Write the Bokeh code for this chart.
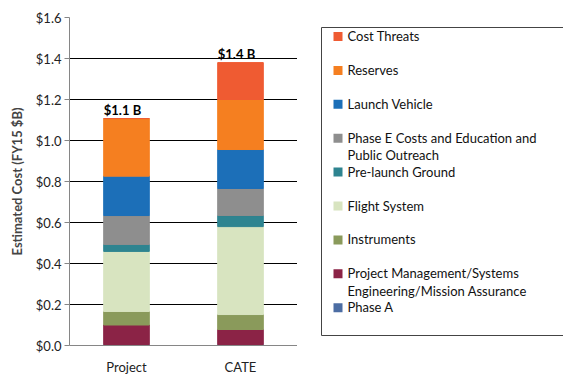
from bokeh.plotting import figure
from bokeh.layouts import row
from bokeh.models import ColumnDataSource, PrintfTickFormatter, FixedTicker, Range1d
from bokeh.core.properties import value
from bokeh.embed import file_html
from bokeh.resources import INLINE

categories = ["Project", "CATE"]
components = ["phase_a", "pm", "instruments", "flight", "prelaunch", "phase_e", "launch", "reserves", "threats"]
legend_labels = [
    "Phase A",
    "Project Management/Systems\nEngineering/Mission Assurance",
    "Instruments",
    "Flight System",
    "Pre-launch Ground",
    "Phase E Costs and Education and\nPublic Outreach",
    "Launch Vehicle",
    "Reserves",
    "Cost Threats",
]
phase_a = [0.005, 0.005]
pm = [0.095, 0.073]
instruments = [0.066, 0.073]
flight = [0.293, 0.429]
prelaunch = [0.034, 0.054]
phase_e = [0.141, 0.132]
launch = [0.192, 0.190]
reserves = [0.281, 0.244]
threats = [0.0, 0.180]
total_labels = ["$1.1 B", "$1.4 B"]
y_ticks = [0.0, 0.2, 0.4, 0.6, 0.8, 1.0, 1.2, 1.4, 1.6]

colors = ["#4C6DA3", "#8B2346", "#8A9A5B", "#D8E4C0", "#2E8490", "#8E8E8E", "#1C6FB8", "#F57F20", "#EF5B32"]

data = dict(cat=categories, phase_a=phase_a, pm=pm, instruments=instruments, flight=flight,
            prelaunch=prelaunch, phase_e=phase_e, launch=launch, reserves=reserves, threats=threats)
totals = [sum(v) for v in zip(phase_a, pm, instruments, flight, prelaunch, phase_e, launch, reserves, threats)]
data["total"] = totals
data["total_label"] = total_labels
source = ColumnDataSource(data)

FIG_H = 374

p = figure(x_range=categories, y_range=Range1d(0, 1.6), frame_width=228, frame_height=328,
           output_backend="svg", toolbar_location=None,
           min_border_left=69, min_border_right=0, min_border_top=17, min_border_bottom=29)

renderers = p.vbar_stack(components, x="cat", width=0.4, color=colors, source=source)

p.text(x="cat", y="total", text="total_label", source=source, text_font=value("Lato"),
       text_font_style="bold", text_font_size="13px", text_align="center",
       text_baseline="bottom", y_offset=-1, x_offset=-4, text_color="#000000")

p.outline_line_color = None
p.xgrid.grid_line_color = None
p.ygrid.grid_line_color = "#000000"
p.ygrid.grid_line_width = 1
p.ygrid.ticker = FixedTicker(ticks=y_ticks)

p.yaxis.ticker = FixedTicker(ticks=y_ticks)
p.yaxis.formatter = PrintfTickFormatter(format="$%.1f")
p.yaxis.axis_line_color = "#868686"
p.yaxis.major_tick_line_color = "#868686"
p.yaxis.major_tick_out = 5
p.yaxis.major_tick_in = 0
p.yaxis.minor_tick_line_color = None
p.yaxis.major_label_standoff = 3
p.yaxis.major_label_text_font = "Lato"
p.yaxis.major_label_text_font_size = "13px"
p.yaxis.major_label_text_color = "#222222"
p.yaxis.axis_label = "Estimated Cost (FY15 $B)"
p.yaxis.axis_label_text_font = "Lato"
p.yaxis.axis_label_text_font_style = "bold"
p.yaxis.axis_label_text_font_size = "13px"
p.yaxis.axis_label_standoff = 8

p.xaxis.axis_line_color = "#868686"
p.xaxis.major_tick_line_color = None
p.xaxis.major_tick_out = 0
p.xaxis.major_tick_in = 0
p.xaxis.major_label_standoff = 13
p.xaxis.major_label_text_font = "Lato"
p.xaxis.major_label_text_font_size = "13px"
p.xaxis.major_label_text_color = "#222222"

# legend panel (drawn in a pixel-unit figure so that entries sit like the original)
LEG_W = 266
TOP_SHIFT = 15
leg = figure(frame_width=LEG_W, frame_height=FIG_H, x_range=Range1d(0, LEG_W),
             y_range=Range1d(FIG_H + TOP_SHIFT, TOP_SHIFT),
             output_backend="svg", toolbar_location=None, x_axis_location=None, y_axis_location=None,
             min_border=0, min_border_left=0, min_border_right=0, min_border_top=0, min_border_bottom=0,
             outline_line_color=None)
leg.grid.grid_line_color = None

leg_labels = legend_labels[::-1]
leg_colors = colors[::-1]
slot = 33.9
first_center = 34
centers = [first_center + slot * i for i in range(len(leg_labels))]
leg_src = ColumnDataSource(dict(label=leg_labels, color=leg_colors, yc=centers,
                                ytop=[c - 8.5 for c in centers]))
leg.quad(left=[24], right=[LEG_W + 20], top=[25], bottom=[333], fill_color="white",
         line_color="#444444", line_width=1)
leg.rect(x=40.5, y="yc", width=9, height=9, fill_color="color", line_color=None, source=leg_src)
leg.text(x=50, y="ytop", text="label", source=leg_src, text_font=value("Lato"),
         text_font_size="13px", text_baseline="top", text_align="left",
         text_line_height=1.1, text_color="#111111")

layout = row(p, leg)
open("out.html", "w").write(file_html(layout, INLINE))
